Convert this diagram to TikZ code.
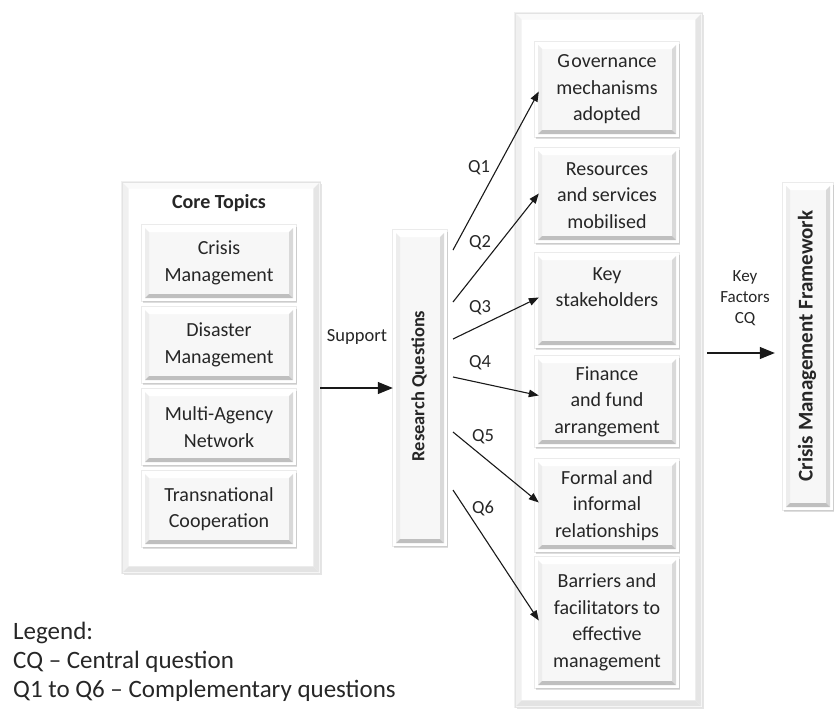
\documentclass[tikz,border=0pt]{standalone}
\usepackage{fontspec}
\setmainfont{Carlito}
\usetikzlibrary{arrows.meta,calc}

% Paints a bevelled face inside a node's path:
% #1 outer frame, #2 bevel width, #3 face, #4 top, #5 left, #6 right, #7 bottom
\newcommand\paintbevel[7]{%
  \pgfmathsetlengthmacro\bvA{#1}%
  \pgfmathsetlengthmacro\bvB{#1+#2}%
  \path (path picture bounding box.south west) coordinate (bvsw)
        (path picture bounding box.south east) coordinate (bvse)
        (path picture bounding box.north east) coordinate (bvne)
        (path picture bounding box.north west) coordinate (bvnw);
  \path ($(bvsw)+(\bvA,\bvA)$) coordinate (osw)
        ($(bvse)+(-\bvA,\bvA)$) coordinate (ose)
        ($(bvne)+(-\bvA,-\bvA)$) coordinate (one)
        ($(bvnw)+(\bvA,-\bvA)$) coordinate (onw)
        ($(bvsw)+(\bvB,\bvB)$) coordinate (isw)
        ($(bvse)+(-\bvB,\bvB)$) coordinate (ise)
        ($(bvne)+(-\bvB,-\bvB)$) coordinate (ine)
        ($(bvnw)+(\bvB,-\bvB)$) coordinate (inw);
  \fill[#3] (isw) rectangle (ine);
  \fill[#4] (onw) -- (one) -- (ine) -- (inw) -- cycle;
  \fill[#5] (osw) -- (onw) -- (inw) -- (isw) -- cycle;
  \fill[#6] (ose) -- (one) -- (ine) -- (ise) -- cycle;
  \fill[#7] (osw) -- (ose) -- (ise) -- (isw) -- cycle;
}
\newcommand\bxfont{\fontsize{20}{26.5}\selectfont}
\newcommand\lblfont{\fontsize{18.5}{22}\selectfont}
\newcommand\legfont{\fontsize{25}{29}\selectfont}

\begin{document}
\begin{tikzpicture}[x=1pt,y=-1pt,
  ink/.style={text=black!85},
  bevelbox/.style={ink, fill=white, inner sep=0pt, align=center, font=\bxfont,
     path picture={\paintbevel{3pt}{4pt}{gray!6}{white}{gray!14}{gray!30}{gray!50}},
     preaction={draw=black, line width=1.6pt, opacity=0.08},
     preaction={fill=black, opacity=0.13, transform canvas={xshift=1.2pt,yshift=-1.8pt}}},
  panel/.style={fill=white, draw=gray!22, inner sep=0pt,
     path picture={\paintbevel{0.6pt}{6pt}{white}{gray!4}{gray!12}{gray!20}{gray!22}},
     preaction={draw=black, line width=1.6pt, opacity=0.06},
     preaction={fill=black, opacity=0.10, transform canvas={xshift=1.5pt,yshift=-2pt}}},
  lbl/.style={ink, font=\lblfont, inner sep=0pt},
  qarrow/.style={-{Triangle[length=10pt,width=7.5pt]}, line width=1.1pt, black!90},
  bigarrow/.style={-{Triangle[length=15pt,width=12pt]}, line width=1.1pt, black!90},
]
\useasboundingbox (0,0) rectangle (835,713);

% core topics column
\node[panel, minimum width=198pt, minimum height=391pt] (core) at (221,377.5) {};
\node[ink, font=\bxfont\bfseries, inner sep=0pt] (coretitle) at (219,203) {Core Topics};
\node[bevelbox, minimum width=154pt, minimum height=76pt] (crisis) at (219,263) {Crisis\\Management};
\node[bevelbox, minimum width=154pt, minimum height=76pt] (disaster) at (219,345) {Disaster\\Management};
\node[bevelbox, minimum width=154pt, minimum height=76pt] (multi) at (219,427) {Multi-Agency\\Network};
\node[bevelbox, minimum width=154pt, minimum height=76pt] (trans) at (219,509) {Transnational\\Cooperation};

% research questions
\node[bevelbox, minimum width=54pt, minimum height=316pt] (rq) at (420,388) {};
\node[ink, rotate=90, font=\fontsize{18.5}{22}\selectfont\bfseries, inner sep=0pt] (rqtext) at (419,386) {Research Questions};

% key factor column
\node[panel, minimum width=187pt, minimum height=694pt] (rpanel) at (608.5,360) {};
\node[bevelbox, minimum width=144pt, minimum height=95pt] (gov) at (607,89.5) {G\kern1.5pt overnance\\mechanisms\\adopted};
\node[bevelbox, minimum width=144pt, minimum height=95pt] (res) at (607,195.5) {Resources\\and services\\mobilised};
\node[bevelbox, minimum width=144pt, minimum height=95pt] (key) at (607,300.5) {Key\\stakeholders\\~};
\node[bevelbox, minimum width=144pt, minimum height=91pt] (fin) at (607,401.5) {Finance\\and fund\\arrangement};
\node[bevelbox, minimum width=144pt, minimum height=93pt] (form) at (607,505.5) {Formal and\\informal\\relationships};
\node[bevelbox, minimum width=144pt, minimum height=131pt] (barr) at (607,622.5) {Barriers and\\facilitators to\\effective\\management};

% framework
\node[bevelbox, minimum width=50pt, minimum height=327pt] (cmf) at (808,346.5) {};
\node[ink, rotate=90, font=\fontsize{21}{24}\selectfont\bfseries, inner sep=0pt] (cmftext) at (807,346) {Crisis Management Framework};

% labels
\node[lbl] (support) at (357,337) {Support};
\node[lbl, align=center, font=\fontsize{17}{21}\selectfont] (kf) at (745,298) {Key\\Factors\\CQ};
\node[lbl] (q1) at (479,168) {Q1};
\node[lbl] (q2) at (480,243) {Q2};
\node[lbl] (q3) at (480,308) {Q3};
\node[lbl] (q4) at (480,363) {Q4};
\node[lbl] (q5) at (483,437) {Q5};
\node[lbl] (q6) at (483,508) {Q6};

% connectors
\draw[bigarrow] (core.east |- rq.center) -- (rq.west);
\coordinate (kfy) at (0,353);
\draw[bigarrow, shorten <=5pt, shorten >=8pt] (rpanel.east |- kfy) -- (cmf.west |- kfy);

\coordinate (q1s) at (453,250);
\coordinate (q2s) at (453,302);
\coordinate (q3s) at (453,339);
\coordinate (q4s) at (453,377);
\coordinate (q5s) at (453,432);
\coordinate (q6s) at (453,490);
\draw[qarrow] (q1s) -- ([xshift=4pt,yshift=-2pt]gov.west);
\draw[qarrow] (q2s) -- ([xshift=4pt,yshift=2pt]res.west);
\draw[qarrow] (q3s) -- ([xshift=4pt,yshift=3pt]key.west);
\draw[qarrow] (q4s) -- ([xshift=4pt,yshift=6pt]fin.west);
\draw[qarrow] (q5s) -- ([xshift=4pt,yshift=3pt]form.west);
\draw[qarrow] (q6s) -- ([xshift=4pt,yshift=2pt]barr.west);

% legend
\node[ink, font=\legfont, anchor=base west, inner sep=0pt] (leg1) at (13,639) {Legend:};
\node[ink, font=\legfont, anchor=base west, inner sep=0pt] (leg2) at (13,668) {CQ – Central question};
\node[ink, font=\legfont, anchor=base west, inner sep=0pt] (leg3) at (13,697) {Q1 to Q6 – Complementary questions};
\end{tikzpicture}
\end{document}
